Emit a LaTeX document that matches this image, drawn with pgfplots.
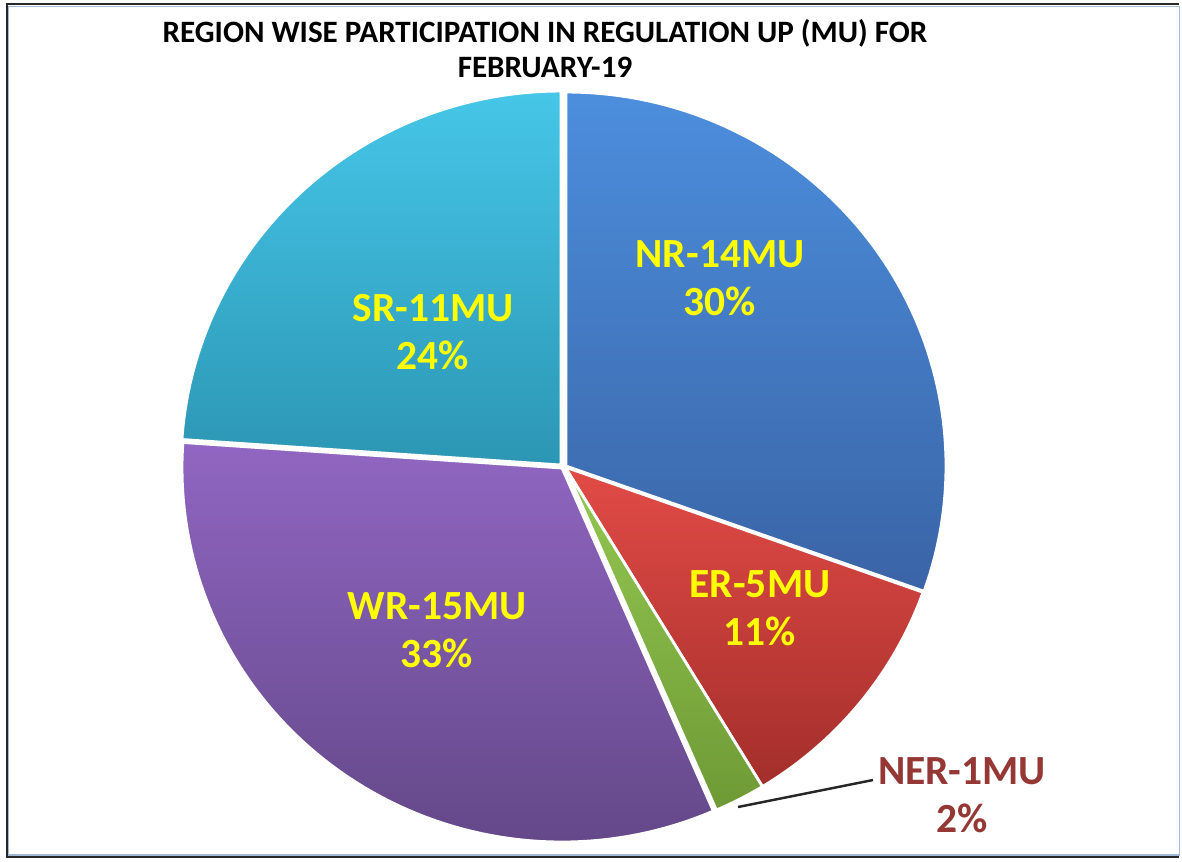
\documentclass[border=0pt]{standalone}
\usepackage{pgfplots}
\pgfplotsset{compat=1.18}
\usepackage{fontspec}
\setmainfont{Carlito}
\definecolor{nrTop}{HTML}{4C8EDD}
\definecolor{nrBot}{HTML}{3A64A6}
\definecolor{erTop}{HTML}{E24B46}
\definecolor{erBot}{HTML}{A32E2B}
\definecolor{nerTop}{HTML}{94C852}
\definecolor{nerBot}{HTML}{6E9A35}
\definecolor{wrTop}{HTML}{9066C2}
\definecolor{wrBot}{HTML}{644889}
\definecolor{srTop}{HTML}{46C6E8}
\definecolor{srBot}{HTML}{2C96B4}
\definecolor{lblYellow}{HTML}{FFFF00}
\definecolor{nerLbl}{HTML}{953735}
\definecolor{frameBlue}{HTML}{A3B8D4}
% Region values in MU (share of total)
\def\vNR{14}
\def\vER{5}
\def\vNER{1}
\def\vWR{15}
\def\vSR{11}
\pgfmathsetmacro{\tot}{\vNR+\vER+\vNER+\vWR+\vSR}
\pgfmathsetmacro{\aA}{90}
\pgfmathsetmacro{\aB}{\aA-360*\vNR/\tot}
\pgfmathsetmacro{\aC}{\aB-360*\vER/\tot}
\pgfmathsetmacro{\aD}{\aC-360*\vNER/\tot}
\pgfmathsetmacro{\aE}{\aD-360*\vWR/\tot}
\pgfmathsetmacro{\aF}{\aE-360*\vSR/\tot}
\def\cx{565}
\def\cy{394}
\def\rx{380}
\def\ry{374}
\begin{document}
\begin{tikzpicture}
\begin{axis}[
  width=11.82cm, height=8.61cm, scale only axis,
  xmin=0, xmax=1182, ymin=0, ymax=861,
  hide axis, clip=false,
]
\fill[white] (axis cs:0,0) rectangle (axis cs:1182,861);
% frame
\draw[frameBlue, line width=0.5pt] (axis cs:8.5,6) rectangle (axis cs:1179.5,854.5);
\draw[black!85, line width=0.6pt] (axis cs:1179,857) -- (axis cs:7,857) -- (axis cs:7,4) -- (axis cs:1179,4);
% slices
\addplot[draw=white, line width=0.8pt, top color=nrTop, bottom color=nrBot, domain=\aB:\aA, samples=80, variable=\t]
  ({\cx+1+\rx*cos(\t)},{\cy+1+\ry*sin(\t)}) -- (axis cs:566,395) -- cycle;
\addplot[draw=white, line width=0.8pt, top color=erTop, bottom color=erBot, domain=\aC:\aB, samples=40, variable=\t]
  ({\cx+\rx*cos(\t)},{\cy+\ry*sin(\t)}) -- (axis cs:\cx,\cy) -- cycle;
\addplot[draw=white, line width=0.8pt, top color=nerTop, bottom color=nerBot, domain=\aD:\aC, samples=10, variable=\t]
  ({\cx+\rx*cos(\t)},{\cy+\ry*sin(\t)}) -- (axis cs:\cx,\cy) -- cycle;
\addplot[draw=white, line width=0.8pt, top color=wrTop, bottom color=wrBot, domain=\aE:\aD, samples=80, variable=\t]
  ({\cx-3+\rx*cos(\t)},{\cy-1+\ry*sin(\t)}) -- (axis cs:562,393) -- cycle;
\addplot[draw=white, line width=0.8pt, top color=srTop, bottom color=srBot, domain=\aF:\aE, samples=60, variable=\t]
  ({\cx-4+\rx*cos(\t)},{\cy+2+\ry*sin(\t)}) -- (axis cs:561,396) -- cycle;
% leader line
\draw[black!85, line width=0.7pt] (axis cs:738,54) -- (axis cs:873,81);
% title
\node[font=\bfseries\fontsize{8.85}{9.8}\selectfont, align=center, anchor=north, inner sep=0pt] at (axis cs:545,842)
  {REGION WISE PARTICIPATION IN REGULATION UP (MU) FOR\\FEBRUARY-19};
% labels
\tikzset{lbl/.style={font=\bfseries\fontsize{11.8}{13.6}\selectfont, align=center, text=lblYellow}}
\node[lbl] at (axis cs:720,583) {NR-14MU\\30\%};
\node[lbl] at (axis cs:433,529) {SR-11MU\\24\%};
\node[lbl] at (axis cs:437,231) {WR-15MU\\33\%};
\node[lbl] at (axis cs:760,253) {ER-5MU\\11\%};
\node[lbl, text=nerLbl] at (axis cs:962,66) {NER-1MU\\2\%};
\end{axis}
\end{tikzpicture}
\end{document}
